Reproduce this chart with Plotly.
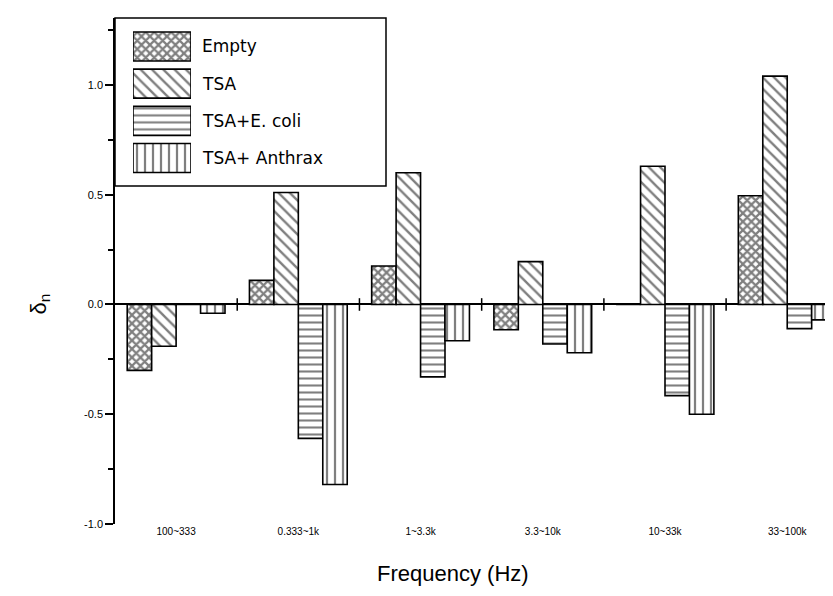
import plotly.graph_objects as go

# frequency bands on the x axis
bands = ["100~333", "0.333~1k", "1~3.3k", "3.3~10k", "10~33k", "33~100k"]

series_names = ["Empty", "TSA", "TSA+E. coli", "TSA+ Anthrax"]
empty = [-0.30, 0.11, 0.175, -0.115, 0.0, 0.495]
tsa = [-0.19, 0.51, 0.60, 0.195, 0.63, 1.04]
tsa_ecoli = [0.0, -0.61, -0.33, -0.18, -0.415, -0.11]
tsa_anthrax = [-0.04, -0.82, -0.165, -0.22, -0.50, -0.07]

y_ticks = [-1.0, -0.5, 0.0, 0.5, 1.0]

series_values = [empty, tsa, tsa_ecoli, tsa_anthrax]
patterns = [
    dict(shape="x", size=6, solidity=0.6),
    dict(shape="\\", size=8, solidity=0.3),
    dict(shape="-", size=7, solidity=0.3),
    dict(shape="|", size=8, solidity=0.28),
]

W, H = 833, 596
L, R, T, B = 107, 0, 10, 80
pw, ph = W - L - R, H - T - B


def px_x(x):
    return (x - L) / pw


def px_y(y):
    return 1 - (y - T) / ph


xpos = list(range(len(bands)))

fig = go.Figure()

for name, vals, pat in zip(series_names, series_values, patterns):
    fig.add_trace(go.Bar(
        x=xpos, y=vals, name=name, showlegend=False,
        marker=dict(color="white", line=dict(color="black", width=1.6),
                    pattern=dict(fgcolor="black", bgcolor="white", **pat)),
    ))

# small ticks on the zero line between the groups
fig.add_trace(go.Scatter(
    x=[i + 0.5 for i in xpos[:-1]], y=[0] * (len(bands) - 1),
    mode="markers", showlegend=False, hoverinfo="skip",
    marker=dict(symbol="line-ns", size=9, line=dict(color="black", width=1.5)),
))

# hand-made legend with large pattern swatches
for i, (name, pat) in enumerate(zip(series_names, patterns)):
    fig.add_trace(go.Bar(
        y=[i], x=[1], orientation="h", xaxis="x3", yaxis="y3",
        width=0.78, offset=-0.39, showlegend=False, hoverinfo="skip",
        marker=dict(color="white", line=dict(color="black", width=1.6),
                    pattern=dict(fgcolor="black", bgcolor="white", **pat)),
    ))
    fig.add_annotation(
        x=px_x(192), xref="paper", y=i, yref="y3", text=name,
        showarrow=False, xanchor="left", yanchor="middle",
        font=dict(family="DejaVu Sans, Arial, sans-serif", size=17, color="black"),
    )

fig.add_shape(type="rect", xref="paper", yref="paper",
              x0=px_x(107), x1=px_x(378), y0=px_y(178), y1=px_y(10),
              line=dict(color="black", width=1.5))

# axis titles
fig.add_annotation(
    x=px_x(445), xref="paper", y=px_y(580), yref="paper",
    text="Frequency (Hz)", showarrow=False,
    font=dict(family="Liberation Sans, Arial, sans-serif", size=22, color="black"),
)
fig.add_annotation(
    x=px_x(16), xref="paper", y=0, yref="y",
    text="δ<sub>n</sub>", showarrow=False, textangle=-90,
    font=dict(family="Liberation Sans, Arial, sans-serif", size=22, color="black"),
)

fig.update_layout(
    width=W, height=H,
    margin=dict(l=L, r=R, t=T, b=B),
    paper_bgcolor="white", plot_bgcolor="white",
    barmode="group", bargap=0.2, bargroupgap=0,
    xaxis=dict(
        range=[-0.5, 5.44], tickmode="array", tickvals=xpos, ticktext=bands,
        showline=False, showgrid=False, zeroline=False, ticks="",
        tickfont=dict(family="Liberation Sans Narrow, Arial Narrow, Liberation Sans, sans-serif",
                      size=10, color="black"),
    ),
    yaxis=dict(
        range=[-1.0, 1.305], tickmode="array", tickvals=y_ticks,
        ticktext=[f"{v:.1f}" for v in y_ticks],
        showline=True, linecolor="black", linewidth=1.5,
        ticks="outside", ticklen=8, tickwidth=1.5, tickcolor="black",
        minor=dict(ticks="outside", ticklen=5, tickwidth=1.5, tickcolor="black",
                   tickvals=[-0.75, -0.25, 0.25, 0.75, 1.25]),
        showgrid=False, zeroline=True, zerolinecolor="black", zerolinewidth=1.5,
        tickfont=dict(family="Liberation Sans, Arial, sans-serif", size=11, color="black"),
    ),
    xaxis3=dict(domain=[px_x(125), px_x(183)], range=[0, 1], visible=False,
                anchor="y3", fixedrange=True),
    yaxis3=dict(domain=[px_y(168.6), px_y(19.9)], range=[3.5, -0.5], visible=False,
                anchor="x3", fixedrange=True),
)

fig.write_html("out.html")
